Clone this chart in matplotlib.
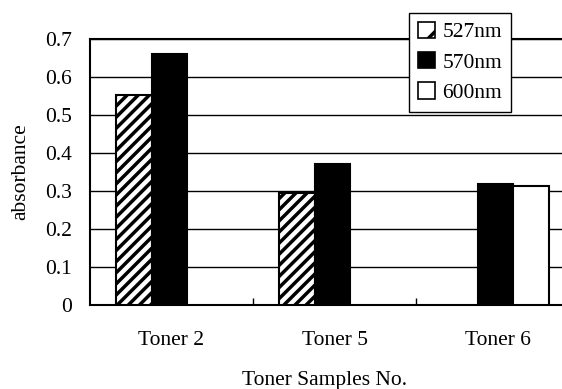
import numpy as np
import matplotlib
matplotlib.use("Agg")
import matplotlib.pyplot as plt
from matplotlib.patches import Patch

plt.rcParams["font.family"] = ["Liberation Serif", "DejaVu Serif"]
plt.rcParams["hatch.linewidth"] = 2.5

categories = ["Toner 2", "Toner 5", "Toner 6"]
series_names = ["527nm", "570nm", "600nm"]
abs_527 = [0.553, 0.294, 0.0]
abs_570 = [0.660, 0.371, 0.318]
abs_600 = [0.0, 0.0, 0.312]
y_ticks = [0, 0.1, 0.2, 0.3, 0.4, 0.5, 0.6, 0.7]
y_tick_labels = ["0", "0.1", "0.2", "0.3", "0.4", "0.5", "0.6", "0.7"]

FS = 15.5
W, H = 562, 389
fig = plt.figure(figsize=(W / 100, H / 100), dpi=100)
ax = fig.add_axes([90 / W, 84 / H, 489 / W, 266 / H])

x = np.arange(len(categories))
w = 0.218
styles = [
    dict(facecolor="white", edgecolor="black", hatch="///"),
    dict(facecolor="black", edgecolor="black"),
    dict(facecolor="white", edgecolor="black"),
]
for i, (vals, st) in enumerate(zip([abs_527, abs_570, abs_600], styles)):
    pos = x + (i - 1) * w - 0.012
    for p, v in zip(pos, vals):
        if v > 0:
            ax.bar(p, v, width=w, linewidth=1.5, zorder=3, **st)

ax.set_xlim(-0.5, 2.5)
ax.set_ylim(0, 0.7)
ax.set_yticks(y_ticks)
ax.set_yticklabels(y_tick_labels, fontsize=FS)
ax.yaxis.grid(True, color="black", linewidth=1.0, zorder=0)
ax.set_axisbelow(True)

ax.set_xticks(x)
ax.set_xticklabels(categories, fontsize=FS)
ax.tick_params(axis="x", length=0, pad=19)
ax.tick_params(axis="y", length=0, pad=13)
# small inward ticks between categories
ax.set_xticks([0.5, 1.5], minor=True)
ax.tick_params(axis="x", which="minor", direction="in", length=5, width=1)

for s in ["left", "bottom", "top"]:
    ax.spines[s].set_linewidth(1.5)
ax.spines["right"].set_visible(False)

ax.set_ylabel("absorbance", fontsize=FS, labelpad=11)
fig.text(325 / W, 1 - 380 / H, "Toner Samples No.", ha="center", va="center",
         fontsize=FS)

handles = [Patch(label=n, linewidth=1.2, **st) for n, st in zip(series_names, styles)]
handles[0].set_hatch("/")
leg = fig.legend(handles=handles, loc="upper left",
                 bbox_to_anchor=(409 / W, 1 - 13 / H), fontsize=FS,
                 fancybox=False, framealpha=1, edgecolor="black",
                 handlelength=0.8, handleheight=0.8, handletextpad=0.35,
                 labelspacing=0.45, borderpad=0.4, borderaxespad=0)
leg.get_frame().set_linewidth(1.0)

fig.savefig("out.png", dpi=100)
